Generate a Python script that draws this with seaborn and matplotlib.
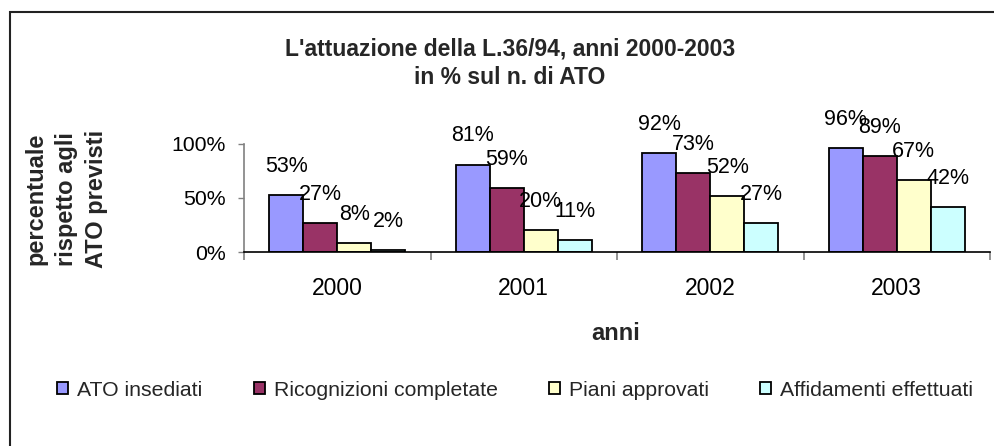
import pandas as pd
import matplotlib
matplotlib.use("Agg")
import matplotlib.pyplot as plt
import seaborn as sns
from matplotlib.patches import Rectangle
from matplotlib.ticker import FixedLocator, FuncFormatter

# ==========================================
# DATA
# ==========================================
years = ["2000", "2001", "2002", "2003"]
series = ["ATO insediati", "Ricognizioni completate", "Piani approvati", "Affidamenti effettuati"]
ato_insediati = [53, 81, 92, 96]
ricognizioni = [27, 59, 73, 89]
piani = [8, 20, 52, 67]
affidamenti = [2, 11, 27, 42]
colors = ["#9999FF", "#993366", "#FFFFCC", "#CCFFFF"]

rows = []
for name, vals in zip(series, [ato_insediati, ricognizioni, piani, affidamenti]):
    for y, v in zip(years, vals):
        rows.append({"anno": y, "serie": name, "valore": v})
df = pd.DataFrame(rows)

# ==========================================
# FIGURE
# ==========================================
sns.set_theme(style="white")
plt.rcParams["font.family"] = ["Liberation Sans", "DejaVu Sans"]

W, H = 994, 446
fig = plt.figure(figsize=(W / 100, H / 100), dpi=100)
fig.patch.set_facecolor("white")

# plot area in pixel coords
left, right, top, bottom = 244, 990, 144, 252
ax = fig.add_axes([left / W, 1 - bottom / H, (right - left) / W, (bottom - top) / H])

sns.barplot(data=df, x="anno", y="valore", hue="serie", order=years, hue_order=series,
            palette=colors, saturation=1, width=0.727, edgecolor="black", linewidth=1.3,
            errorbar=None, ax=ax, legend=True)

ax.set_xlim(-0.5, 3.5)
ax.set_ylim(0, 100)
ax.set_facecolor("white")

for cont, vals in zip(ax.containers, [ato_insediati, ricognizioni, piani, affidamenti]):
    ax.bar_label(cont, labels=[f"{v}%" for v in vals], padding=13,
                 fontsize=15.5, color="black", clip_on=False)

# axes styling (Excel look)
for s in ["top", "right"]:
    ax.spines[s].set_visible(False)
ax.spines["left"].set_color("#808080")
ax.spines["left"].set_linewidth(1.2)
ax.spines["bottom"].set_color("black")
ax.spines["bottom"].set_linewidth(1.2)

ax.yaxis.set_major_locator(FixedLocator([0, 50, 100]))
ax.yaxis.set_major_formatter(FuncFormatter(lambda v, p: f"{int(v)}%"))
ax.tick_params(axis="y", which="major", direction="out", length=4.3, width=1,
               color="#808080", pad=8.6, labelsize=15.3, left=True)
ax.tick_params(axis="x", which="major", length=0, pad=18, labelsize=16.5, bottom=True)
ax.xaxis.set_minor_locator(FixedLocator([-0.5, 0.5, 1.5, 2.5, 3.5]))
ax.tick_params(axis="x", which="minor", direction="out", length=6, width=1.2,
               color="#808080", bottom=True)
for lbl in ax.get_xticklabels() + ax.get_yticklabels():
    lbl.set_color("black")
ax.set_xlabel("")
ax.set_ylabel("")
ax.grid(False)

# legend below
handles, labels = ax.get_legend_handles_labels()
ax.get_legend().remove()
fig.legend(handles, labels, loc="center", bbox_to_anchor=(515 / W, 1 - 390 / H),
           ncol=4, frameon=False, fontsize=15.3, handlelength=0.52, handleheight=0.52,
           handletextpad=0.42, columnspacing=2.4)

# titles and axis titles
fig.text(510 / W, 1 - 49 / H, "L'attuazione della L.36/94, anni 2000-2003",
         ha="center", va="center", fontsize=16.5, fontweight="bold")
fig.text(510 / W, 1 - 77 / H, "in % sul n. di ATO",
         ha="center", va="center", fontsize=16.5, fontweight="bold")
fig.text(616 / W, 1 - 333 / H, "anni", ha="center", va="center",
         fontsize=17, fontweight="bold")
fig.text(66 / W, 1 - 199 / H, "percentuale\nrispetto agli\nATO previsti",
         ha="center", va="center", rotation=90, multialignment="center",
         fontsize=17, fontweight="bold", linespacing=1.4)

# outer frame (cropped at right and bottom as in the reference)
fig.patches.append(Rectangle((10 / W, -0.1), 2.0, 1 - 12 / H + 0.1,
                             transform=fig.transFigure, fill=False,
                             edgecolor="#222222", linewidth=1.5))

fig.savefig("out.png", dpi=100)
